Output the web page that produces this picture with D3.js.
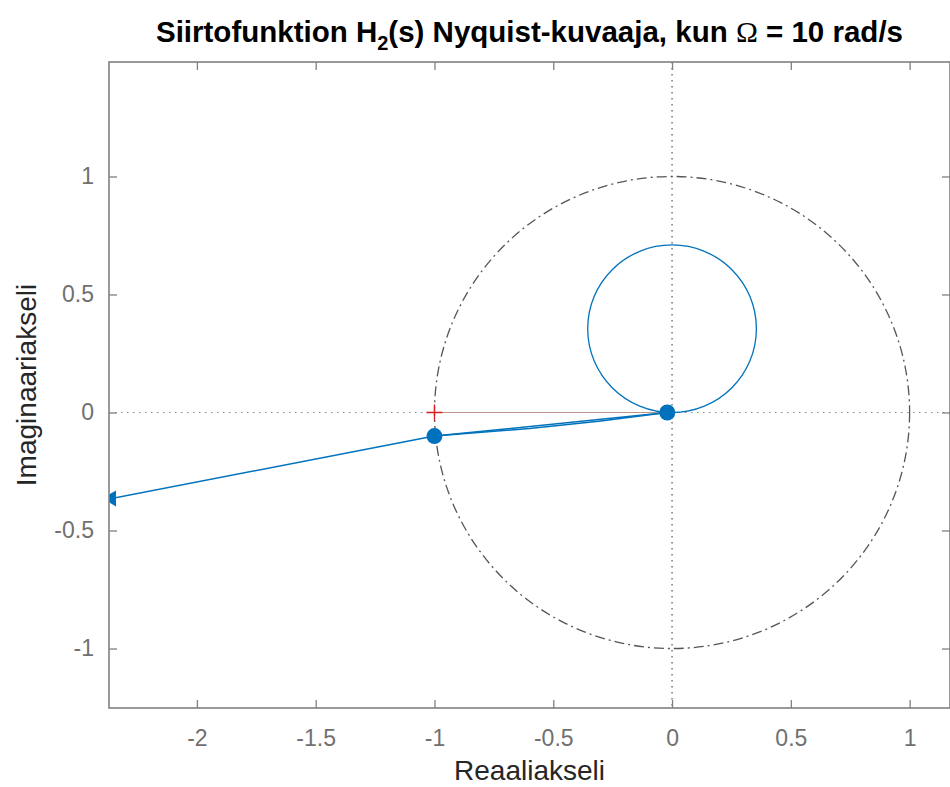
<!DOCTYPE html>
<html>
<head>
	<meta charset="utf-8">
	<title>nyquist with d3</title>
	<style>
		body { margin: 0; background: #fff; }
		text { font-family: "Liberation Sans", Arial, sans-serif; }
	</style>
</head>
<body>
	<div class="svg-nyquist"></div>
<script src="https://cdn.jsdelivr.net/npm/d3@7"></script>
<script>
	// data
	let xTicks = [-2, -1.5, -1, -0.5, 0, 0.5, 1];
	let yTicks = [-1, -0.5, 0, 0.5, 1];

	// small loop of H2(jw) near the origin
	let loopRe = [0, 0.136, 0.251, 0.328, 0.355, 0.328, 0.251, 0.136, 0, -0.136, -0.251, -0.328, -0.355, -0.328, -0.251, -0.136];
	let loopIm = [0, 0.027, 0.104, 0.219, 0.355, 0.491, 0.606, 0.683, 0.71, 0.683, 0.606, 0.491, 0.355, 0.219, 0.104, 0.027];

	// branch going out to the left
	let tailRe = [-0.02, -1, -2.40];
	let tailIm = [0, -0.10, -0.372];
	let backRe = [-0.02, -0.3, -0.6, -1];
	let backIm = [0, -0.036, -0.068, -0.10];

	// marked points, arrow head, critical point
	let dotRe = [-0.02, -1];
	let dotIm = [0, -0.10];
	let arrowRe = [-2.36];
	let arrowIm = [-0.364];
	let critRe = [-1];
	let critIm = [0];

	window.onload = function(){
		showNyquist();
	}

	function showNyquist(){
		let svg_width = 950;
		let svg_height = 787;
		let box = {"left": 109, "right": 950, "top": 62, "bottom": 708};

		let scaleX = d3.scaleLinear().domain([-2.37, 1.17]).range([box.left, box.right]);
		let scaleY = d3.scaleLinear().domain([-1.252, 1.485]).range([box.bottom, box.top]);

		let blue = "#0072BD";

		let container = d3.select(".svg-nyquist").append("svg")
			.attr("width", svg_width)
			.attr("height", svg_height);

		container.append("defs").append("clipPath")
			.attr("id", "plot-clip")
			.append("rect")
			.attr("x", box.left)
			.attr("y", box.top)
			.attr("width", box.right - box.left)
			.attr("height", box.bottom - box.top);

		let plot = container.append("g").attr("clip-path", "url(#plot-clip)");

		// dotted zero lines
		plot.append("line")
			.attr("x1", box.left).attr("x2", box.right)
			.attr("y1", scaleY(0)).attr("y2", scaleY(0))
			.attr("stroke", "#888").attr("stroke-width", 1.2)
			.attr("stroke-dasharray", "1.5,4.5");
		plot.append("line")
			.attr("x1", scaleX(0)).attr("x2", scaleX(0))
			.attr("y1", box.top).attr("y2", box.bottom)
			.attr("stroke", "#555").attr("stroke-width", 1.2)
			.attr("stroke-dasharray", "1.5,4.5");

		// unit circle, dash-dot
		plot.append("ellipse")
			.attr("cx", scaleX(0)).attr("cy", scaleY(0))
			.attr("rx", scaleX(1) - scaleX(0))
			.attr("ry", scaleY(0) - scaleY(1))
			.attr("fill", "none")
			.attr("stroke", "#555").attr("stroke-width", 1.3)
			.attr("stroke-dasharray", "10,4,2,4");

		// thin line from critical point to origin
		plot.append("line")
			.attr("x1", scaleX(critRe[0])).attr("x2", scaleX(0))
			.attr("y1", scaleY(critIm[0])).attr("y2", scaleY(0))
			.attr("stroke", "#bf938a").attr("stroke-width", 1);

		let loop = loopRe.map((v, i) => [v, loopIm[i]]);
		let loopLine = d3.line()
			.x((d) => scaleX(d[0]))
			.y((d) => scaleY(d[1]))
			.curve(d3.curveCatmullRomClosed);
		plot.append("path")
			.attr("d", loopLine(loop))
			.attr("fill", "none").attr("stroke", blue).attr("stroke-width", 1.3);

		let line = d3.line()
			.x((d) => scaleX(d[0]))
			.y((d) => scaleY(d[1]));
		let tail = tailRe.map((v, i) => [v, tailIm[i]]);
		let back = backRe.map((v, i) => [v, backIm[i]]);
		[tail, back].forEach((pts) => {
			plot.append("path")
				.attr("d", line(pts))
				.attr("fill", "none").attr("stroke", blue).attr("stroke-width", 1.5);
		});

		// markers
		plot.selectAll("circle.dot")
			.data(dotRe)
			.enter()
			.append("circle")
			.attr("class", "dot")
			.attr("r", 8)
			.attr("cx", (v) => scaleX(v))
			.attr("cy", (v, i) => scaleY(dotIm[i]))
			.attr("fill", blue);

		plot.selectAll("path.arrow")
			.data(arrowRe)
			.enter()
			.append("path")
			.attr("class", "arrow")
			.attr("d", d3.symbol(d3.symbolTriangle, 110))
			.attr("transform", (v, i) => "translate(" + scaleX(v) + "," + scaleY(arrowIm[i]) + ") rotate(-90)")
			.attr("fill", blue);

		// critical point +
		plot.selectAll("path.crit")
			.data(critRe)
			.enter()
			.append("path")
			.attr("class", "crit")
			.attr("d", (v, i) => {
				let cx = scaleX(v), cy = scaleY(critIm[i]), s = 8;
				return "M" + (cx - s) + "," + cy + "H" + (cx + s) + "M" + cx + "," + (cy - s) + "V" + (cy + s);
			})
			.attr("stroke", "#d62020").attr("stroke-width", 1.3);

		// box with inward ticks on all four sides
		let axes = container.append("g").attr("class", "axes");
		let tickColor = "#808080";
		let tickLen = 8;
		let fmt = (d) => String(d);

		axes.append("g")
			.attr("transform", "translate(0," + box.bottom + ")")
			.call(d3.axisBottom(scaleX).tickValues(xTicks).tickSize(-tickLen).tickPadding(14 + tickLen).tickFormat(fmt));
		axes.append("g")
			.attr("transform", "translate(0," + box.top + ")")
			.call(d3.axisTop(scaleX).tickValues(xTicks).tickSize(-tickLen).tickFormat(""));
		axes.append("g")
			.attr("transform", "translate(" + box.left + ",0)")
			.call(d3.axisLeft(scaleY).tickValues(yTicks).tickSize(-tickLen).tickPadding(7 + tickLen).tickFormat(fmt));
		axes.append("g")
			.attr("transform", "translate(" + box.right + ",0)")
			.call(d3.axisRight(scaleY).tickValues(yTicks).tickSize(-tickLen).tickFormat(""));

		axes.selectAll(".domain").remove();
		axes.selectAll(".tick line").attr("stroke", tickColor).attr("stroke-width", 1.3);
		axes.selectAll(".tick text")
			.attr("fill", "#707070")
			.style("font-size", "23px")
			.style("font-family", "'Liberation Sans', Arial, sans-serif");

		axes.append("rect")
			.attr("x", box.left).attr("y", box.top)
			.attr("width", box.right - box.left)
			.attr("height", box.bottom - box.top)
			.attr("fill", "none")
			.attr("stroke", tickColor).attr("stroke-width", 1.6);

		// labels
		let midX = (box.left + box.right) / 2;
		let midY = (box.top + box.bottom) / 2;

		container.append("text")
			.attr("x", midX).attr("y", 780)
			.attr("text-anchor", "middle")
			.attr("fill", "#262626")
			.style("font-size", "28px")
			.text("Reaaliakseli");

		container.append("text")
			.attr("transform", "translate(36," + midY + ") rotate(-90)")
			.attr("text-anchor", "middle")
			.attr("fill", "#262626")
			.style("font-size", "28px")
			.text("Imaginaariakseli");

		let title = container.append("text")
			.attr("x", midX).attr("y", 42)
			.attr("text-anchor", "middle")
			.attr("fill", "#000")
			.style("font-size", "29.5px")
			.style("font-weight", "bold");
		title.append("tspan").text("Siirtofunktion H");
		title.append("tspan").attr("dy", 8).style("font-size", "20px").text("2");
		title.append("tspan").attr("dy", -8).text("(s) Nyquist-kuvaaja, kun ");
		title.append("tspan").style("font-family", "'Liberation Serif', 'DejaVu Serif', serif").style("font-weight", "normal").text("Ω");
		title.append("tspan").text(" = 10 rad/s");
	}
</script>
</body>
</html>
